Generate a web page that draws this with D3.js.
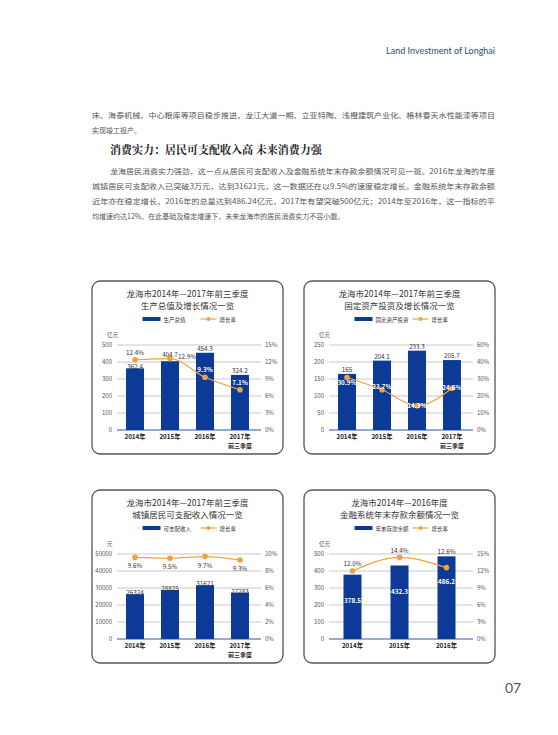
<!DOCTYPE html>
<html><head><meta charset="utf-8">
<script src="https://cdn.jsdelivr.net/npm/d3@7"></script>
<style>body{margin:0;background:#fff}svg{display:block}</style>
</head><body>
<svg id="s" width="558" height="735"></svg>
<script>
// ---- data ----
const cats4 = ["2014年","2015年","2016年","2017年"];
const cats3 = ["2014年","2015年","2016年"];
const gdpValues = [362.4, 404.7, 454.3, 324.2];
const gdpRates = [12.4, 12.6, 9.3, 7.1];
const gdpRateLabels = ["12.4%","12.9%","9.3%","7.1%"];
const invValues = [165, 204.1, 233.3, 205.7];
const invRates = [30.9, 23.7, 14.3, 24.6];
const incomeValues = [26324, 28825, 31621, 27283];
const incomeRates = [9.6, 9.5, 9.7, 9.3];
const depositValues = [378.5, 432.3, 486.2];
const depositRates = [12.0, 14.4, 12.6];
const gdpLeftTicks = [0,100,200,300,400,500];
const gdpRightTicks = ["0%","3%","6%","9%","12%","15%"];
const invLeftTicks = [0,50,100,150,200,250];
const invRightTicks = ["0%","10%","20%","30%","40%","60%"];
const incLeftTicks = [0,10000,20000,30000,40000,50000];
const incRightTicks = ["0%","2%","4%","6%","8%","10%"];
const depLeftTicks = [0,100,200,300,400,500];
const depRightTicks = ["0%","3%","6%","9%","12%","15%"];

const F = "'Noto Sans CJK SC','Noto Sans',sans-serif";
const svg = d3.select("#s");
const BLUE = "#0d3a96", ORANGE = "#eda33f";

svg.append("text").attr("x",495).attr("y",54).attr("text-anchor","end").attr("font-family","Lato,sans-serif")
  .attr("font-size",9).attr("fill","#2b4a8a").text("Land Investment of Longhai");
svg.append("text").attr("x",505).attr("y",693).attr("font-family","Lato,sans-serif")
  .attr("font-size",14).attr("fill","#555").text("07");

function line(t,x,y,w,opt={}){
  const e=svg.append("text").attr("x",x).attr("y",y).attr("font-family",opt.serif?"'Noto Serif CJK SC','Noto Sans CJK SC',serif":F)
   .attr("font-size",opt.size||7).attr("fill",opt.fill||"#555").attr("font-weight",opt.bold?"bold":null).text(t);
  if(w) e.attr("textLength",w).attr("lengthAdjust","spacingAndGlyphs");
}
line("床、海泰机械、中心粮库等项目稳步推进，龙江大道一期、立亚特陶、浅橙建筑产业化、格林春天水性能漆等项目",92,118,403);
line("实现竣工投产。",92,133,null);
line("消费实力：居民可支配收入高  未来消费力强",110,154,null,{size:11,bold:true,fill:"#222",serif:true});
line("龙海居民消费实力强劲，这一点从居民可支配收入及金融系统年末存款余额情况可见一斑。2016年龙海的年度",110,174,385);
line("城镇居民可支配收入已突破3万元，达到31621元，这一数据还在以9.5%的速度稳定增长。金融系统年末存款余额",92,189,403);
line("近年亦在稳定增长，2016年的总量达到486.24亿元，2017年有望突破500亿元；2014年至2016年，这一指标的平",92,204,403);
line("均增速约达12%。在此基础及稳定增速下，未来龙海市的居民消费实力不容小觑。",92,219,null);

function chart(o){
  const g = svg.append("g").attr("transform",`translate(${o.x},${o.y})`);
  g.append("rect").attr("x",0).attr("y",0).attr("width",191).attr("height",o.h).attr("rx",8)
    .attr("fill","#fff").attr("stroke","#555").attr("stroke-width",1.3);
  o.title.forEach((t,i)=>g.append("text").attr("x",95.5).attr("y",16+i*12).attr("text-anchor","middle")
    .attr("font-family",F).attr("font-size",8.5).attr("fill","#333").text(t));
  const lx = 95.5-45;
  g.append("rect").attr("x",lx).attr("y",36).attr("width",18).attr("height",4).attr("fill",BLUE);
  g.append("text").attr("x",lx+21).attr("y",40.5).attr("font-family",F).attr("font-size",5.5).attr("fill","#333").text(o.legend);
  g.append("line").attr("x1",lx+58).attr("x2",lx+74).attr("y1",38).attr("y2",38).attr("stroke",ORANGE).attr("stroke-width",1.2);
  g.append("circle").attr("cx",lx+66).attr("cy",38).attr("r",2).attr("fill",ORANGE);
  g.append("text").attr("x",lx+77).attr("y",40.5).attr("font-family",F).attr("font-size",5.5).attr("fill","#333").text("增长率");
  g.append("text").attr("x",15).attr("y",56).attr("font-family",F).attr("font-size",5.5).attr("fill","#555").text(o.unit);
  const x0=25,x1=166, yT=64, yB=149;
  const x = d3.scaleBand().domain(o.cats).range([x0,x1]).paddingInner(o.pad).paddingOuter(o.padO);
  const yl = d3.scaleLinear().domain([0,o.lmax]).range([yB,yT]);
  const yr = d3.scaleLinear().domain([0,o.rmax]).range([yB,yT]);
  g.selectAll(".gl").data(o.lticks).join("line").attr("x1",x0).attr("x2",x1+3).attr("y1",d=>yl(d)).attr("y2",d=>yl(d))
    .attr("stroke",(d)=>d===0?"#2a5aa8":"#bbb").attr("stroke-width",d=>d===0?1.2:0.8);
  g.selectAll(".lt").data(o.lticks).join("text").attr("x",x0-5).attr("y",d=>yl(d)+2).attr("text-anchor","end")
    .attr("font-family",F).attr("font-size",6).attr("fill","#555").text(d=>d);
  g.selectAll(".rt").data(o.rticks).join("text").attr("x",x1+7).attr("y",(d,i)=>yB-(yB-yT)*i/(o.rticks.length-1)+2)
    .attr("font-family",F).attr("font-size",6).attr("fill","#555").text(d=>d);
  const bw = 18;
  g.selectAll(".b").data(o.values).join("rect").attr("x",(d,i)=>x(o.cats[i])+x.bandwidth()/2-bw/2)
    .attr("y",d=>yl(d)).attr("width",bw).attr("height",d=>yB-yl(d)).attr("fill",BLUE);
  o.cats.forEach((c,i)=>{
    const cx=x(c)+x.bandwidth()/2;
    g.append("text").attr("x",cx).attr("y",yB+9).attr("text-anchor","middle").attr("font-family",F)
      .attr("font-size",6.3).attr("font-weight","bold").attr("fill","#222").text(c);
    if(o.sub&&o.sub[i]) g.append("text").attr("x",cx).attr("y",yB+18).attr("text-anchor","middle").attr("font-family",F)
      .attr("font-size",6).attr("font-weight","bold").attr("fill","#222").text(o.sub[i]);
  });
  const cxs = o.cats.map(c=>x(c)+x.bandwidth()/2);
  const pts = o.rates.map((r,i)=>[cxs[i],yr(r)]);
  g.append("path").attr("d",d3.line().curve(d3.curveMonotoneX)(pts)).attr("fill","none").attr("stroke",ORANGE).attr("stroke-width",1.2);
  g.selectAll(".p").data(pts).join("circle").attr("cx",d=>d[0]).attr("cy",d=>d[1]).attr("r",2.8).attr("fill",ORANGE);
  o.values.forEach((v,i)=>{
    const l=o.vl[i];
    g.append("text").attr("x",cxs[i]+(l.dx||0)).attr("y",yl(v)+l.dy).attr("text-anchor","middle")
      .attr("font-family",F).attr("font-size",6.3).attr("font-weight",l.w?"bold":null).attr("fill",l.w?"#fff":"#333").text(l.t);
  });
  o.rates.forEach((r,i)=>{
    const l=o.rl[i];
    g.append("text").attr("x",cxs[i]+(l.dx||0)).attr("y",yr(r)+l.dy).attr("text-anchor","middle")
      .attr("font-family",F).attr("font-size",6.3).attr("font-weight",l.w?"bold":null).attr("fill",l.w?"#fff":"#333").text(l.t);
  });
}
const sub4=["","","","前三季度"];
chart({x:92,y:281,h:173,title:["龙海市2014年—2017年前三季度","生产总值及增长情况一览"],legend:"生产总值",unit:"亿元",
  cats:cats4,sub:sub4,values:gdpValues,rates:gdpRates,lmax:500,rmax:15,pad:0.47,padO:0.25,lticks:gdpLeftTicks,rticks:gdpRightTicks,
  vl:gdpValues.map((v,i)=>({t:String(v),dy:[1,-4,-2,-2][i]})),
  rl:[{t:gdpRateLabels[0],dy:-5},{t:gdpRateLabels[1],dy:0,dx:17},{t:gdpRateLabels[2],dy:-5,w:1},{t:gdpRateLabels[3],dy:-5,w:1}]});
chart({x:304,y:281,h:173,title:["龙海市2014年—2017年前三季度","固定资产投资及增长情况一览"],legend:"固定资产投资",unit:"亿元",
  cats:cats4,sub:sub4,values:invValues,rates:invRates,lmax:250,rmax:50,pad:0.47,padO:0.25,lticks:invLeftTicks,rticks:invRightTicks,
  vl:invValues.map(v=>({t:String(v),dy:-2})),
  rl:invRates.map((r,i)=>({t:r+"%",dy:[8,-1,2,2][i],w:1}))});
chart({x:92,y:490,h:173,title:["龙海市2014年—2017年前三季度","城镇居民可支配收入情况一览"],legend:"可支配收入",unit:"元",
  cats:cats4,sub:sub4,values:incomeValues,rates:incomeRates,lmax:50000,rmax:10,pad:0.47,padO:0.25,lticks:incLeftTicks,rticks:incRightTicks,
  vl:incomeValues.map(v=>({t:String(v),dy:1})),
  rl:incomeRates.map(r=>({t:r+"%",dy:11}))});
chart({x:304,y:490,h:173,title:["龙海市2014年—2016年度","金融系统年末存款余额情况一览"],legend:"年末存款余额",unit:"亿元",
  cats:cats3,values:depositValues,rates:depositRates,lmax:500,rmax:15,pad:0.6,padO:0.3,lticks:depLeftTicks,rticks:depRightTicks,
  vl:depositValues.map(v=>({t:String(v),dy:28,w:1})),
  rl:depositRates.map((r,i)=>({t:r.toFixed(1)+"%",dy:[-5,-4,-14][i]}))});
</script>
</body></html>
